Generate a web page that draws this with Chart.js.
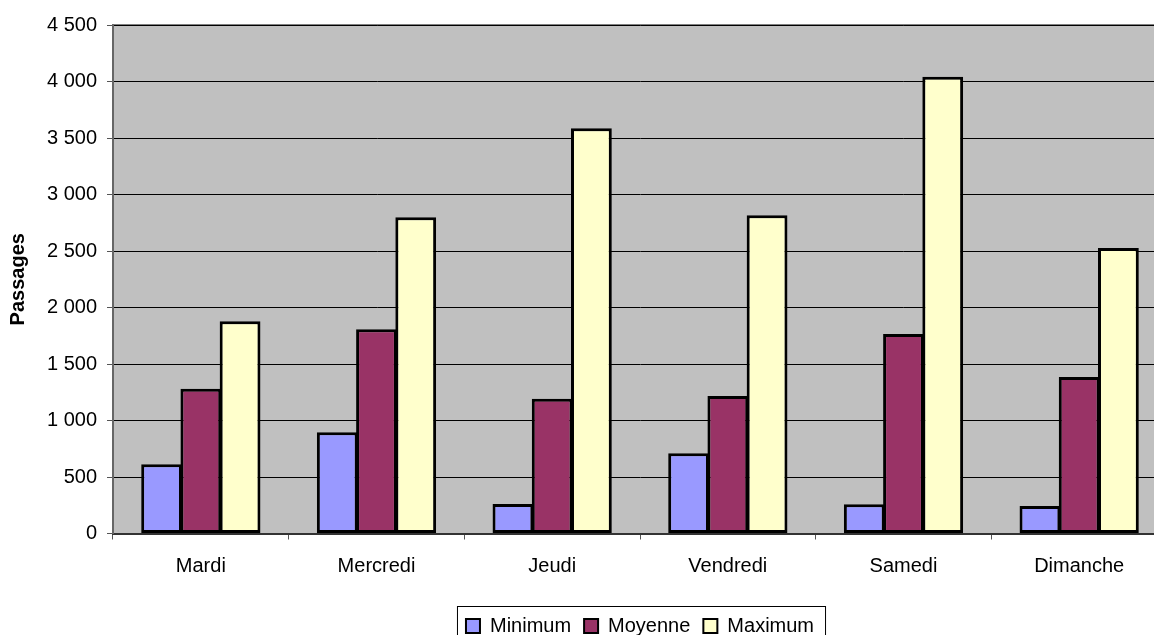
<!DOCTYPE html>
<html>
<head>
<meta charset="utf-8">
<script src="https://cdn.jsdelivr.net/npm/chart.js@4"></script>
<style>
  html, body { margin: 0; padding: 0; background: #fff; overflow: hidden; }
  #holder { width: 1280px; height: 646px; }
</style>
</head>
<body>
<div id="holder"><canvas id="chart"></canvas></div>
<script>
const days = ["Mardi", "Mercredi", "Jeudi", "Vendredi", "Samedi", "Dimanche"];
const minimum = [612, 896, 261, 710, 258, 243];
const moyenne = [1281, 1807, 1193, 1217, 1765, 1385];
const maximum = [1878, 2798, 3586, 2816, 4042, 2527];
const yMax = 4500, yStep = 500;

// thousands with a space, like "4 500"
function fmt(v) {
  return String(v).replace(/\B(?=(\d{3})+(?!\d))/g, " ");
}

// grey plot area + top border
const plotBg = {
  id: "plotBg",
  beforeDraw(chart) {
    const { ctx, chartArea: a } = chart;
    ctx.save();
    ctx.fillStyle = "#C0C0C0";
    ctx.fillRect(a.left, a.top, a.right - a.left, a.bottom - a.top);
    ctx.strokeStyle = "#808080";
    ctx.lineWidth = 2;
    ctx.beginPath();
    ctx.moveTo(a.left, a.top);
    ctx.lineTo(a.right, a.top);
    ctx.lineTo(a.right, a.bottom);
    ctx.stroke();
    ctx.restore();
  }
};

// frame round the legend
const legendFrame = {
  id: "legendFrame",
  afterDraw(chart) {
    const boxes = chart.legend.legendHitBoxes;
    if (!boxes || !boxes.length) return;
    const first = boxes[0], last = boxes[boxes.length - 1];
    const cy = first.top + first.height / 2;
    const ctx = chart.ctx;
    ctx.save();
    ctx.strokeStyle = "#000";
    ctx.lineWidth = 1;
    ctx.strokeRect(first.left - 8.5, cy - 19.5, last.left + last.width - first.left + 20, 38);
    ctx.restore();
  }
};

Chart.defaults.font.family = "'Liberation Sans', Arial, sans-serif";
Chart.defaults.font.size = 20;
Chart.defaults.color = "#000";

new Chart(document.getElementById("chart"), {
  type: "bar",
  data: {
    labels: days,
    datasets: [
      { label: "Minimum", data: minimum, backgroundColor: "#9999FF" },
      { label: "Moyenne", data: moyenne, backgroundColor: "#993366" },
      { label: "Maximum", data: maximum, backgroundColor: "#FFFFCC" }
    ].map(d => Object.assign(d, {
      borderColor: "#000",
      borderWidth: 3,
      borderSkipped: false,
      categoryPercentage: 0.67,
      barPercentage: 1.04
    }))
  },
  options: {
    responsive: true,
    maintainAspectRatio: false,
    animation: false,
    layout: { padding: { top: 25, left: 0, right: 0, bottom: 0 } },
    plugins: {
      tooltip: { enabled: false },
      legend: {
        position: "bottom",
        labels: {
          boxWidth: 14,
          boxHeight: 14,
          padding: 13,
          font: { size: 20 },
          generateLabels(chart) {
            return chart.data.datasets.map((d, i) => ({
              text: d.label,
              fillStyle: d.backgroundColor,
              strokeStyle: "#000",
              lineWidth: 2,
              datasetIndex: i,
              hidden: false
            }));
          }
        }
      }
    },
    scales: {
      x: {
        grid: { display: true, drawOnChartArea: false, offset: true, tickLength: 6, color: "#555" },
        border: { color: "#333", width: 2 },
        ticks: { padding: 15, font: { size: 20 } },
        afterFit(s) { s.height = 69.5; }
      },
      y: {
        min: 0,
        max: yMax,
        ticks: { stepSize: yStep, padding: 10, font: { size: 20 }, callback: v => fmt(v) },
        grid: { color: "#000", lineWidth: 1, tickLength: 6, tickColor: "#555" },
        border: { color: "#666", width: 2 },
        title: { display: true, text: "Passages", font: { size: 20, weight: "bold" }, padding: { top: 6, bottom: 0 } },
        afterFit(s) { s.width = 113; }
      },
      y2: {
        position: "right",
        display: true,
        grid: { display: false },
        border: { display: false },
        ticks: { display: false },
        afterFit(s) { s.width = 113; }
      }
    }
  },
  plugins: [plotBg, legendFrame]
});
</script>
</body>
</html>
